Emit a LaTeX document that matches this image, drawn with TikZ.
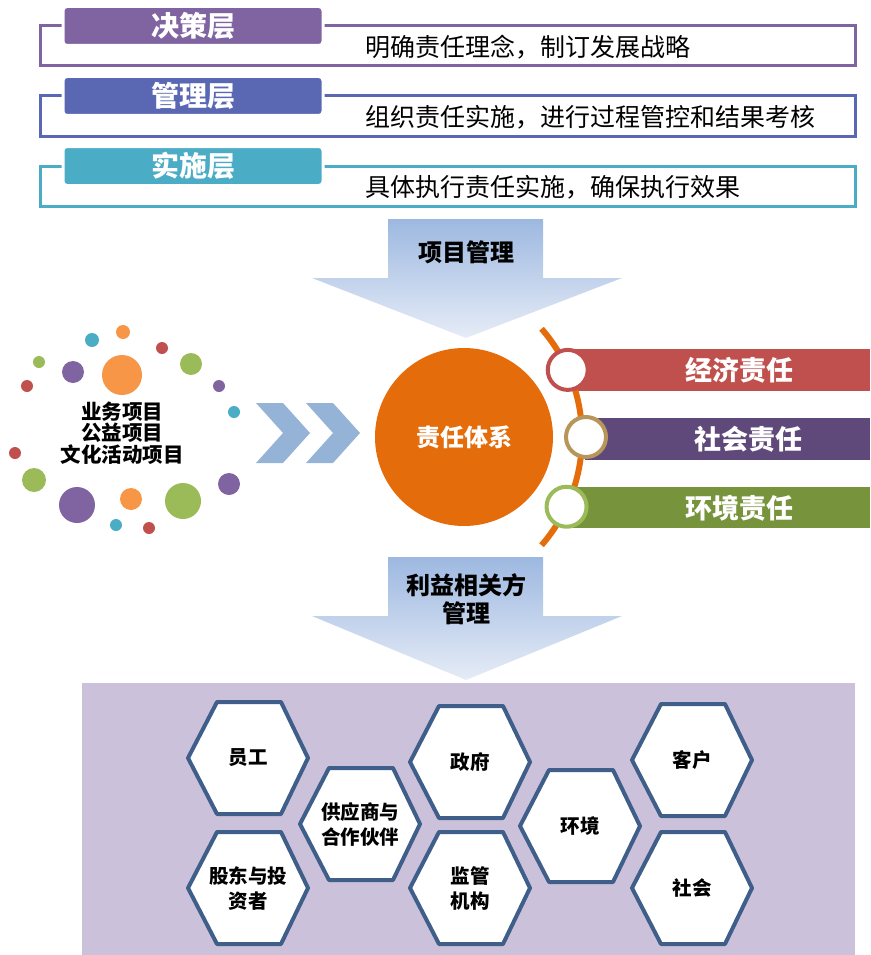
\documentclass[tikz,border=0pt]{standalone}
\usepackage{fontspec}
\newfontfamily\cjk{Noto Sans CJK SC}
\usetikzlibrary{calc}
\definecolor{decpurple}{HTML}{8064A2}
\definecolor{mgmtblue}{HTML}{5A67B2}
\definecolor{impteal}{HTML}{4BACC6}
\definecolor{arrowtop}{HTML}{9DB8E0}
\definecolor{arrowbot}{HTML}{E6ECF7}
\definecolor{chevblue}{HTML}{95B3D7}
\definecolor{coreorange}{HTML}{E46C0A}
\definecolor{econred}{HTML}{C0504D}
\definecolor{socpurple}{HTML}{5F497A}
\definecolor{envgreen}{HTML}{77933C}
\definecolor{ringtan}{HTML}{B8965A}
\definecolor{ringgreen}{HTML}{9BBB59}
\definecolor{dotorange}{HTML}{F79646}
\definecolor{dotgreen}{HTML}{9BBB59}
\definecolor{panel}{HTML}{CCC1DA}
\definecolor{hexedge}{HTML}{3F5F8A}
\tikzset{
  tierframe/.style={line width=3pt},
  tiertag/.style={rounded corners=4pt, draw=white, line width=3pt, minimum width=260pt, minimum height=39pt, text=white, font=\cjk\bfseries\fontsize{28}{30}\selectfont},
  tiernote/.style={anchor=west, font=\cjk\fontsize{25}{28}\selectfont},
  arrowlabel/.style={align=center, font=\cjk\bfseries\fontsize{24}{28}\selectfont},
  ring/.style={circle, fill=white, line width=4pt, minimum size=40pt, inner sep=0pt},
  bandtext/.style={text=white, font=\cjk\bfseries\fontsize{27}{30}\selectfont},
  hexline/.style={draw=hexedge, fill=white, line width=4pt, line join=round},
  hextext/.style={align=center, font=\cjk\bfseries\fontsize{19.5}{25}\selectfont}
}
\begin{document}
\begin{tikzpicture}[x=1pt, y=-1pt]
  \useasboundingbox (0,0) rectangle (870,955);
  \foreach \yt/\col/\tag/\note/\nm in {26/decpurple/决策层/明确责任理念，制订发展战略/decide,
      96/mgmtblue/管理层/组织责任实施，进行过程管控和结果考核/manage,
      166/impteal/实施层/具体执行责任实施，确保执行效果/execute} {
    \draw[tierframe, \col] (40,\yt) rectangle (855,\yt+40);
    \node[tiertag, fill=\col] (\nm) at (193,\yt) {\tag};
    \node[tiernote] (\nm-note) at (362,\yt+21) {\note};
  }
  \shade[top color=arrowtop, bottom color=arrowbot] (388,219) -- (543,219) -- (543,278) -- (622,278) -- (466,338) -- (312,278) -- (388,278) -- cycle;
  \node[arrowlabel] (project) at (466,252) {项目管理};
  \foreach \bx/\by/\br/\bc in {123/332/7/dotorange, 92/340/7/impteal, 162/348/6/econred, 39/362/6/dotgreen,
      73/372/11/decpurple, 122/375/20/dotorange, 191/364/11/dotgreen, 27/386/6/econred, 219/386/6/decpurple,
      234/412/6/impteal, 15/453/6/econred, 34/480/12/dotgreen, 229/484/11/decpurple, 77/505/18/decpurple,
      131/499/11/dotorange, 183/501/18/dotgreen, 116/525/6/impteal, 149/528/6/econred}
    \fill[\bc] (\bx,\by) circle (\br pt);
  \node[align=center, font=\cjk\bfseries\fontsize{20.5}{21.5}\selectfont] (projects) at (122,433) {业务项目\\公益项目\\文化活动项目};
  \foreach \dx in {0,50}
    \fill[chevblue] (256+\dx,403) -- (283+\dx,403) -- (310+\dx,433) -- (283+\dx,463) -- (256+\dx,463) -- (283+\dx,433) -- cycle;
  \fill[econred] (568,349) rectangle (870,391);
  \fill[socpurple] (585,418) rectangle (870,460);
  \fill[envgreen] (568,487) rectangle (870,528);
  \coordinate (hub) at (417,437);
  \draw[coreorange, line width=6pt] (hub) ++(41:165pt) arc[start angle=41, end angle=-41, radius=165pt];
  \node[circle, fill=coreorange, minimum size=178pt, inner sep=0pt, text=white, font=\cjk\bfseries\fontsize{24}{28}\selectfont] (core) at (464,437) {责任体系};
  \node[ring, draw=econred] (econ) at ($(hub)+(24:165pt)$) {};
  \node[ring, draw=ringtan] (soc) at ($(hub)+(0:169pt)$) {};
  \node[ring, draw=ringgreen] (env) at ($(hub)+(-25:165pt)$) {};
  \node[bandtext] (econ-text) at (739,370) {经济责任};
  \node[bandtext] (soc-text) at (748,439) {社会责任};
  \node[bandtext] (env-text) at (739,508) {环境责任};
  \shade[top color=arrowtop, bottom color=arrowbot] (388,557) -- (543,557) -- (543,616) -- (622,616) -- (466,680) -- (312,616) -- (388,616) -- cycle;
  \node[arrowlabel] (stake) at (466,599) {利益相关方\\管理};
  \fill[panel] (82,683) rectangle (855,955);
  \foreach \cx/\cy/\nm/\txt in {248/758/staff/员工, 248/888/holder/{股东与投\\资者}, 360/824/supplier/{供应商与\\合作伙伴},
      470/762/gov/政府, 470/888/regulator/{监管\\机构}, 580/826/nature/环境, 692/760/client/客户, 692/888/society/社会} {
    \draw[hexline] (\cx-60,\cy) -- (\cx-31,\cy-56) -- (\cx+33,\cy-56) -- (\cx+60,\cy) -- (\cx+33,\cy+56) -- (\cx-31,\cy+56) -- cycle;
    \node[hextext] (\nm) at (\cx,\cy) {\txt};
  }
\end{tikzpicture}
\end{document}
